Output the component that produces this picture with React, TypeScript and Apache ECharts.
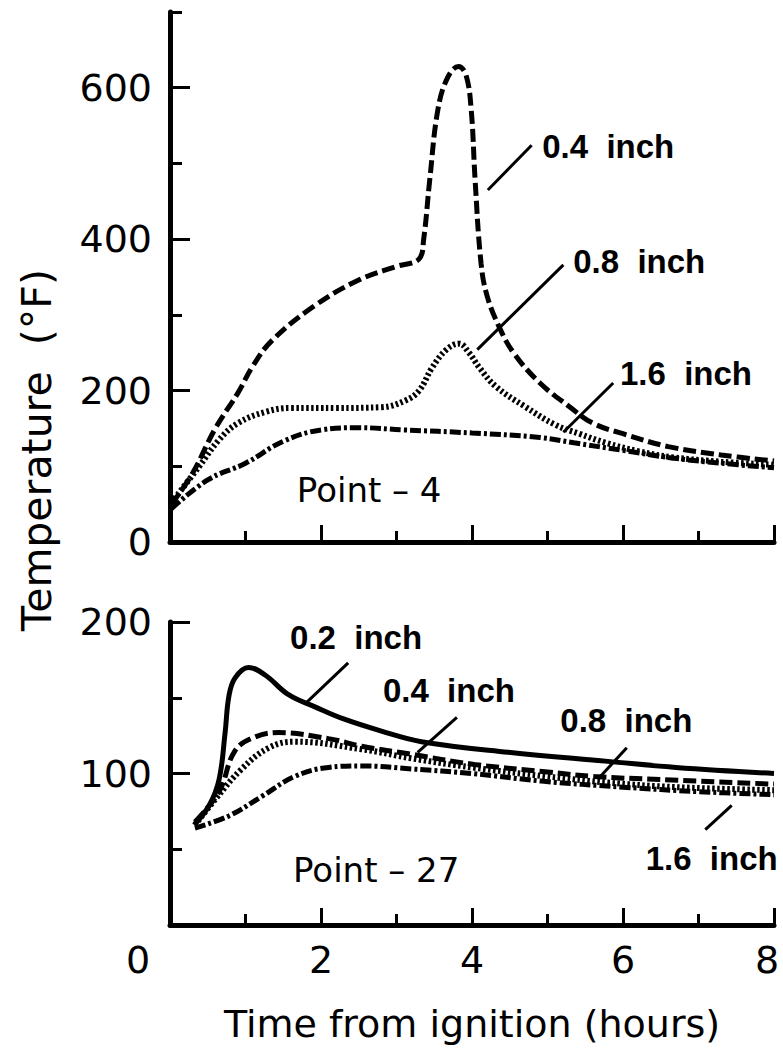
import React, { useEffect, useRef } from "react";
import * as echarts from "echarts";

// ---------- data ----------
const xLabelValues = [0, 2, 4, 6, 8];
const topYLabelValues = [0, 200, 400, 600];
const topYLongTicks = [200, 400, 600];
const bottomYLabelValues = [100, 200];
const bottomYLongTicks = [100, 200];

// Point-4 (top panel): [hours, °F]
const p4Inch04 = [
  [0.02, 50], [0.3, 91], [0.6, 150], [0.9, 197], [1.1, 233], [1.35, 266], [1.9, 311],
  [2.5, 346], [3.0, 364], [3.3, 374], [3.36, 400], [3.44, 478], [3.55, 572], [3.68, 614],
  [3.82, 628], [3.92, 617], [3.99, 570], [4.04, 480], [4.12, 368], [4.2, 325], [4.36, 284],
  [4.55, 250], [4.9, 210], [5.3, 178], [5.6, 157], [6.0, 143], [6.6, 126], [7.3, 115], [8.0, 107],
];
const p4Inch08 = [
  [0.02, 52], [0.38, 99], [0.65, 135], [0.9, 157], [1.27, 172], [1.6, 177], [2.2, 177],
  [2.8, 178], [3.12, 187], [3.3, 200], [3.47, 230], [3.66, 254], [3.83, 262], [3.96, 250],
  [4.1, 230], [4.32, 205], [4.7, 179], [5.1, 155], [5.42, 143], [5.77, 131], [6.2, 120],
  [6.65, 112], [7.3, 106], [8.0, 102],
];
const p4Inch16 = [
  [0.02, 44], [0.5, 82], [1.0, 104], [1.5, 133], [2.0, 148], [2.5, 151], [3.1, 148],
  [4.0, 144], [4.9, 138], [5.35, 131], [6.0, 121], [6.65, 111], [7.3, 104], [8.0, 98],
];

// Point-27 (bottom panel): [hours, °F]
const p27Inch02 = [
  [0.32, 66], [0.52, 79], [0.65, 96], [0.73, 127], [0.78, 151], [0.86, 163], [1.04, 170],
  [1.26, 165], [1.57, 152], [1.92, 144], [2.3, 136], [2.8, 128], [3.33, 121], [4.48, 114],
  [5.8, 108], [6.7, 104], [8.0, 100],
];
const p27Inch04 = [
  [0.33, 68], [0.65, 88], [0.86, 115], [1.12, 124], [1.44, 127], [2.1, 123], [2.54, 118],
  [3.16, 113], [4.03, 106], [5.0, 101], [5.62, 98], [6.5, 96], [8.0, 93],
];
const p27Inch08 = [
  [0.33, 66], [0.6, 83], [0.95, 103], [1.31, 117], [1.65, 121], [2.54, 116], [3.2, 110],
  [4.0, 104], [5.0, 98], [5.8, 94], [6.7, 91], [8.0, 89],
];
const p27Inch16 = [
  [0.33, 64], [0.78, 72], [1.22, 85], [1.65, 98], [2.1, 104], [2.54, 105], [3.2, 103],
  [4.0, 100], [4.92, 95], [6.0, 91], [7.0, 88], [8.0, 86],
];

const seriesNames = ["0.4 inch", "0.8 inch", "1.6 inch", "0.2 inch"];
const panelNames = ["Point – 4", "Point – 27"];
const xTitle = "Time from ignition (hours)";
const yTitle = "Temperature  (°F)";

// ---------- annotation anchors (data space) ----------
const topNotes = [
  { text: seriesNames[0], from: [4.21, 465], to: [4.79, 524], at: [4.93, 522] },
  { text: seriesNames[1], from: [4.07, 254], to: [5.21, 366], at: [5.34, 371] },
  { text: seriesNames[2], from: [5.21, 145], to: [5.87, 210], at: [5.96, 223] },
];
const bottomNotes = [
  { text: seriesNames[3], from: [1.81, 147], to: [2.36, 173], at: [1.59, 190] },
  { text: seriesNames[0], from: [3.28, 114], to: [3.8, 137], at: [2.82, 155] },
  { text: seriesNames[1], from: [5.7, 98], to: [6.05, 117], at: [5.17, 135] },
  { text: seriesNames[2], from: [7.09, 63], to: [7.44, 79], at: [6.3, 44] },
];

const FF = '"DejaVu Sans", sans-serif';
const BOLD = '"Liberation Sans", Arial, sans-serif';
const BLACK = "#000";

const DASH = [13, 5];
const DOT = [2.5, 2.5];
const DASHDOT = [11, 3, 3, 3];

export default function App() {
  const ref = useRef<HTMLDivElement>(null);

  useEffect(() => {
    if (!ref.current) return;
    const chart = echarts.init(ref.current, null, { renderer: "svg" });

    const tickStyle = { color: BLACK, width: 3 };
    const lineSeries = (data: number[][], xi: number, yi: number, type: any, name: string, width = 5) => ({
      type: "line",
      name,
      xAxisIndex: xi,
      yAxisIndex: yi,
      data,
      symbol: "none",
      showSymbol: false,
      smooth: 0.4,
      lineStyle: { color: BLACK, width, type, cap: "butt" },
      z: 3,
    });

    const xAxisBase = (gridIndex: number, showLabels: boolean) => ({
      gridIndex,
      type: "value",
      min: 0,
      max: 8,
      interval: 2,
      axisLine: { onZero: false, lineStyle: { color: BLACK, width: 5 } },
      axisTick: { inside: true, length: 17, lineStyle: tickStyle },
      minorTick: { show: true, splitNumber: 2, length: 11, lineStyle: tickStyle },
      splitLine: { show: false },
      minorSplitLine: { show: false },
      axisLabel: showLabels
        ? {
            show: true,
            customValues: xLabelValues,
            margin: 16,
            color: BLACK,
            fontSize: 38,
            fontFamily: FF,
            formatter: (v: number) => (v === 0 ? "{z|0}" : v === 8 ? "{e|8}" : String(v)),
            rich: {
              z: { fontSize: 38, fontFamily: FF, color: BLACK, padding: [0, 64, 0, 0] },
              e: { fontSize: 38, fontFamily: FF, color: BLACK, padding: [0, 14, 0, 0] },
            },
          }
        : { show: false },
      name: showLabels ? xTitle : "",
      nameLocation: "middle",
      nameGap: 80,
      nameTextStyle: { color: BLACK, fontSize: 38, fontFamily: FF },
    });

    const yMain = (gridIndex: number, max: number, interval: number, labels: number[]) => ({
      gridIndex,
      type: "value",
      position: "left",
      min: 0,
      max,
      interval,
      axisLine: { onZero: false, lineStyle: { color: BLACK, width: 5 } },
      axisTick: { inside: true, length: 12, lineStyle: tickStyle },
      splitLine: { show: false },
      axisLabel: {
        customValues: labels,
        margin: 18,
        color: BLACK,
        fontSize: 38,
        fontFamily: FF,
      },
    });
    const yOverlay = (gridIndex: number, max: number, interval: number, longTicks: number[]) => ({
      gridIndex,
      type: "value",
      position: "left",
      offset: 0,
      min: 0,
      max,
      interval,
      axisLine: { show: false },
      axisTick: { inside: true, length: 20, customValues: longTicks, lineStyle: tickStyle },
      splitLine: { show: false },
      axisLabel: { show: false },
    });

    chart.setOption({
      animation: false,
      backgroundColor: "#fff",
      grid: [
        { left: 170, right: 9, top: 12, bottom: 510, outerBoundsMode: "none" },
        { left: 170, right: 9, top: 622, bottom: 127, outerBoundsMode: "none" },
      ],
      xAxis: [xAxisBase(0, false), xAxisBase(1, true)],
      yAxis: [
        yMain(0, 700, 100, topYLabelValues),
        yOverlay(0, 700, 100, topYLongTicks),
        yMain(1, 200, 50, bottomYLabelValues),
        yOverlay(1, 200, 50, bottomYLongTicks),
      ],
      series: [
        lineSeries(p4Inch04, 0, 0, DASH, "Point 4 – 0.4 inch"),
        lineSeries(p4Inch08, 0, 0, DOT, "Point 4 – 0.8 inch", 6),
        lineSeries(p4Inch16, 0, 0, DASHDOT, "Point 4 – 1.6 inch"),
        { ...lineSeries(p27Inch02, 1, 2, "solid", "Point 27 – 0.2 inch"), lineStyle: { color: BLACK, width: 5 } },
        lineSeries(p27Inch04, 1, 2, DASH, "Point 27 – 0.4 inch"),
        lineSeries(p27Inch08, 1, 2, DOT, "Point 27 – 0.8 inch", 6),
        lineSeries(p27Inch16, 1, 2, DASHDOT, "Point 27 – 1.6 inch"),
      ],
    });

    const topFinder = { xAxisIndex: 0, yAxisIndex: 0 };
    const botFinder = { xAxisIndex: 1, yAxisIndex: 2 };
    const px = (finder: any, p: number[]) => chart.convertToPixel(finder, p) as number[];

    const graphics: any[] = [];
    const addNotes = (finder: any, notes: typeof topNotes) => {
      notes.forEach((n) => {
        const a = px(finder, n.from);
        const b = px(finder, n.to);
        const t = px(finder, n.at);
        graphics.push({
          type: "line",
          shape: { x1: a[0], y1: a[1], x2: b[0], y2: b[1] },
          style: { stroke: BLACK, lineWidth: 3 },
          z: 10,
        });
        graphics.push({
          type: "text",
          x: t[0],
          y: t[1],
          style: {
            text: n.text.replace(" ", "  "),
            fontSize: 33,
            fontWeight: "bold",
            fontFamily: BOLD,
            fill: BLACK,
            align: "left",
            verticalAlign: "middle",
          },
          z: 10,
        });
      });
    };
    addNotes(topFinder, topNotes);
    addNotes(botFinder, bottomNotes);

    const p4 = px(topFinder, [1.68, 69]);
    const p27 = px(botFinder, [1.63, 36]);
    [[p4, panelNames[0]], [p27, panelNames[1]]].forEach(([p, text]: any) => {
      graphics.push({
        type: "text",
        x: p[0],
        y: p[1],
        style: { text, fontSize: 34, fontFamily: FF, fill: BLACK, align: "left", verticalAlign: "middle" },
        z: 10,
      });
    });

    graphics.push({
      type: "text",
      x: 37,
      y: 450,
      rotation: Math.PI / 2,
      style: { text: yTitle, fontSize: 41, fontFamily: FF, fill: BLACK, align: "center", verticalAlign: "middle" },
      z: 10,
    });

    chart.setOption({ graphic: graphics });

    return () => chart.dispose();
  }, []);

  return (
    <div
      ref={ref}
      style={{ position: "absolute", left: 0, top: 0, width: 783, height: 1052, background: "#fff" }}
    />
  );
}
